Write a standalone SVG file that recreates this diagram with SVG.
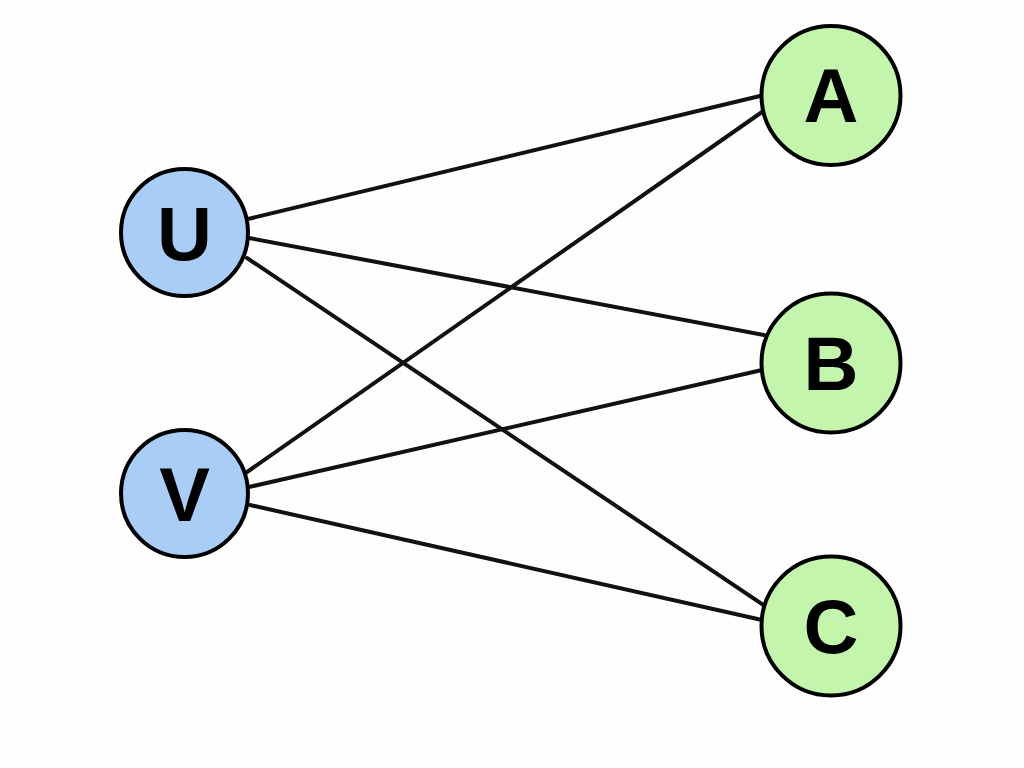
<svg xmlns="http://www.w3.org/2000/svg" width="1024" height="768" viewBox="0 0 1024 768">
<style>
.edge{stroke:#111;stroke-width:4;fill:none;stroke-linecap:round}
.left{fill:#a9cdf6;stroke:#000;stroke-width:4}
.right{fill:#c4f5ac;stroke:#000;stroke-width:4}
.lbl{font-family:"Liberation Sans",Arial,sans-serif;font-weight:bold;font-size:76px;fill:#000;text-anchor:middle}
</style>
<rect width="1024" height="768" fill="#fefefe"/>
<g id="edges">
<line class="edge" x1="248" y1="219" x2="760" y2="96"/>
<line class="edge" x1="249" y1="238" x2="764" y2="335"/>
<line class="edge" x1="247" y1="258" x2="765" y2="606"/>
<line class="edge" x1="247" y1="472" x2="762" y2="112"/>
<line class="edge" x1="249" y1="487" x2="762" y2="370"/>
<line class="edge" x1="250" y1="505" x2="762" y2="620"/>
</g>
<g id="U"><circle class="left" cx="184.5" cy="232.5" r="63.5"/><text class="lbl" x="184.5" y="260">U</text></g>
<g id="V"><circle class="left" cx="184.5" cy="493.5" r="63.5"/><text class="lbl" x="184.5" y="521">V</text></g>
<g id="A"><circle class="right" cx="831" cy="95.5" r="69.5"/><text class="lbl" x="831" y="122">A</text></g>
<g id="B"><circle class="right" cx="831" cy="363" r="69.5"/><text class="lbl" x="831" y="390">B</text></g>
<g id="C"><circle class="right" cx="831" cy="626" r="69.5"/><text class="lbl" x="831" y="653">C</text></g>
</svg>
